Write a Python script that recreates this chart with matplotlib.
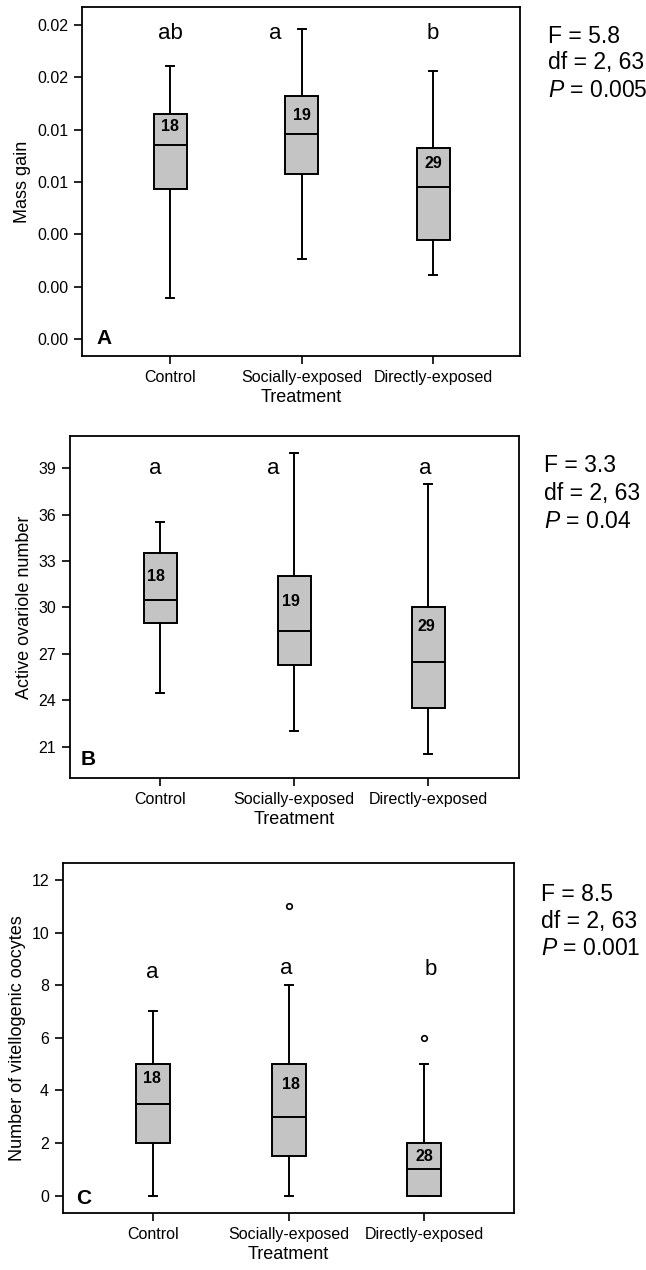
import matplotlib
matplotlib.use("Agg")
import matplotlib.pyplot as plt

plt.rcParams['font.family'] = ['Liberation Sans', 'DejaVu Sans']
plt.rcParams['mathtext.fontset'] = 'custom'
plt.rcParams['mathtext.rm'] = 'Liberation Sans'
plt.rcParams['mathtext.it'] = 'Liberation Sans:italic'

# ---------------- data ----------------
categories = ["Control", "Socially-exposed", "Directly-exposed"]

# Panel A: mass gain
A_whislo = [-0.0009, 0.0021, 0.0009]
A_q1 = [0.0075, 0.0086, 0.0036]
A_med = [0.0108, 0.0117, 0.0076]
A_q3 = [0.0132, 0.0146, 0.0106]
A_whishi = [0.0169, 0.0197, 0.0165]
A_fliers = [[], [], []]
A_n = ["18", "19", "29"]
A_letters = ["ab", "a", "b"]
A_ticks = [-0.004, 0.000, 0.004, 0.008, 0.012, 0.016, 0.020]
A_ticklabels = ["0.00", "0.00", "0.00", "0.01", "0.01", "0.02", "0.02"]
A_stats = ["F = 5.8", "df = 2, 63", "$P$ = 0.005"]

# Panel B: active ovariole number
B_whislo = [24.5, 22.0, 20.5]
B_q1 = [29.0, 26.25, 23.5]
B_med = [30.5, 28.5, 26.5]
B_q3 = [33.5, 32.0, 30.0]
B_whishi = [35.5, 40.0, 38.0]
B_fliers = [[], [], []]
B_n = ["18", "19", "29"]
B_letters = ["a", "a", "a"]
B_ticks = [21, 24, 27, 30, 33, 36, 39]
B_ticklabels = ["21", "24", "27", "30", "33", "36", "39"]
B_stats = ["F = 3.3", "df = 2, 63", "$P$ = 0.04"]

# Panel C: number of vitellogenic oocytes
C_whislo = [0, 0, 0]
C_q1 = [2, 1.5, 0]
C_med = [3.5, 3, 1]
C_q3 = [5, 5, 2]
C_whishi = [7, 8, 5]
C_fliers = [[], [11], [6]]
C_n = ["18", "18", "28"]
C_letters = ["a", "a", "b"]
C_ticks = [0, 2, 4, 6, 8, 10, 12]
C_ticklabels = ["0", "2", "4", "6", "8", "10", "12"]
C_stats = ["F = 8.5", "df = 2, 63", "$P$ = 0.001"]

# ---------------- layout ----------------
panels = [
    dict(rect=[0.1269, 0.7197, 0.678, 0.2748], xlim=(0.33, 3.66), ylim=(-0.0053, 0.02138),
         whislo=A_whislo, q1=A_q1, med=A_med, q3=A_q3, whishi=A_whishi, fliers=A_fliers,
         n=A_n, letters=A_letters, ticks=A_ticks, ticklabels=A_ticklabels, stats=A_stats,
         ylabel="Mass gain", tag="A",
         letter_xy=[(1.0, 0.01939), (1.80, 0.01939), (3.0, 0.01939)],
         n_xy=[(1.0, 0.01228), (2.0, 0.01312), (3.0, 0.00938)],
         tag_xy=(0.034, 0.049), stats_x=0.848, stats_y=[0.9709, 0.9504, 0.9291]),
    dict(rect=[0.1084, 0.3872, 0.695, 0.2695], xlim=(0.326, 3.677), ylim=(18.96, 41.08),
         whislo=B_whislo, q1=B_q1, med=B_med, q3=B_q3, whishi=B_whishi, fliers=B_fliers,
         n=B_n, letters=B_letters, ticks=B_ticks, ticklabels=B_ticklabels, stats=B_stats,
         ylabel="Active ovariole number", tag="B",
         letter_xy=[(0.96, 39.0), (1.84, 39.0), (2.98, 39.0)],
         n_xy=[(0.97, 32.0), (1.975, 30.4), (2.985, 28.75)],
         tag_xy=(0.0245, 0.056), stats_x=0.8426, stats_y=[0.6331, 0.6116, 0.5892]),
    dict(rect=[0.0975, 0.04465, 0.6986, 0.2762], xlim=(0.333, 3.667), ylim=(-0.67, 12.66),
         whislo=C_whislo, q1=C_q1, med=C_med, q3=C_q3, whishi=C_whishi, fliers=C_fliers,
         n=C_n, letters=C_letters, ticks=C_ticks, ticklabels=C_ticklabels, stats=C_stats,
         ylabel="Number of vitellogenic oocytes", tag="C",
         letter_xy=[(0.99, 8.48), (1.98, 8.64), (3.05, 8.6)],
         n_xy=[(0.99, 4.44), (2.02, 4.21), (3.0, 1.48)],
         tag_xy=(0.030, 0.043), stats_x=0.837, stats_y=[0.2953, 0.2743, 0.2533]),
]

fig = plt.figure(figsize=(6.46, 12.70), dpi=100)
fill = "#c4c4c4"
lw = 1.4

for p in panels:
    ax = fig.add_axes(p["rect"])
    stats = []
    for i in range(3):
        stats.append(dict(med=p["med"][i], q1=p["q1"][i], q3=p["q3"][i],
                          whislo=p["whislo"][i], whishi=p["whishi"][i],
                          fliers=p["fliers"][i]))
    ax.bxp(stats, positions=[1, 2, 3], widths=0.25, capwidths=0.06,
           patch_artist=True, showfliers=True,
           boxprops=dict(facecolor=fill, edgecolor="black", linewidth=lw),
           medianprops=dict(color="black", linewidth=lw),
           whiskerprops=dict(color="black", linewidth=lw),
           capprops=dict(color="black", linewidth=lw),
           flierprops=dict(marker="o", markersize=4, markerfacecolor="white",
                           markeredgecolor="black", markeredgewidth=1.2))
    ax.set_xlim(*p["xlim"])
    ax.set_ylim(*p["ylim"])
    ax.set_yticks(p["ticks"])
    ax.set_yticklabels(p["ticklabels"])
    ax.set_xticks([1, 2, 3])
    ax.set_xticklabels(categories)
    ax.tick_params(axis="both", direction="out", length=6, width=1.2, labelsize=11.5,
                   pad=4, colors="black")
    for s in ax.spines.values():
        s.set_linewidth(1.3)
    ax.set_xlabel("Treatment", fontsize=13, labelpad=3)
    ax.set_ylabel(p["ylabel"], fontsize=13, labelpad=4)
    for (x, y), t in zip(p["letter_xy"], p["letters"]):
        ax.text(x, y, t, fontsize=16, ha="center", va="center")
    for (x, y), t in zip(p["n_xy"], p["n"]):
        ax.text(x, y, t, fontsize=11.5, fontweight="bold", ha="center", va="center")
    ax.text(p["tag_xy"][0], p["tag_xy"][1], p["tag"], transform=ax.transAxes,
            fontsize=15, fontweight="bold", ha="left", va="center")
    for y, t in zip(p["stats_y"], p["stats"]):
        fig.text(p["stats_x"], y, t, fontsize=16.5, ha="left", va="center")

fig.savefig("out.png", dpi=100)
